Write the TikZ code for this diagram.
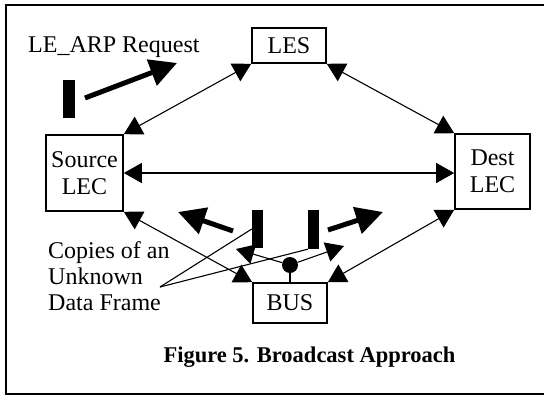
\documentclass[tikz,border=0pt]{standalone}
\usepackage{fontspec}
\setmainfont{Liberation Serif}
\usetikzlibrary{arrows.meta}
\begin{document}
\begin{tikzpicture}[x=1pt,y=-1pt,
  box/.style={draw, line width=1.6pt, inner sep=0pt, align=center,
    font=\fontsize{24}{27}\selectfont},
  link/.style={line width=1.1pt, {Triangle[length=18pt,width=20pt]}-{Triangle[length=18pt,width=20pt]}},
  onehead/.style={line width=1.1pt, -{Triangle[length=18pt,width=20pt]}},
  thin/.style={line width=1.1pt},
  fat/.style={line width=5pt, -{Triangle[length=27pt,width=27pt]}},
  bar/.style={fill, inner sep=0pt},
  lbl/.style={inner sep=0pt, font=\fontsize{24}{26}\selectfont}
]
\useasboundingbox (0,0) rectangle (544,402);
% frame
\draw[line width=1.8pt] (544,5) -- (6,5) -- (6,394) -- (544,394);

% boxes
\node[box, minimum width=74pt, minimum height=35pt] (les) at (289,45.5) {LES};
\node[box, minimum width=77pt, minimum height=76pt] (src) at (84.5,173) {Source\\LEC};
\node[box, minimum width=75pt, minimum height=75pt] (dst) at (492.5,171.5) {Dest\\LEC};
\node[box, minimum width=74pt, minimum height=40pt] (bus) at (290,303) {BUS};

% connectors
\draw[link] (les.south west) -- (src.north east);
\draw[link] (les.south east) -- (dst.north west);
\draw[link] (src.east) -- (src.east -| dst.west);
\draw[link] (src.south east) -- (bus.north west);
\draw[link] (dst.south west) -- (bus.north east);

% bus fan-out dot
\node[circle, fill, inner sep=0pt, minimum size=16pt] (dot) at (290,265) {};
\draw[thin] (dot) -- (bus.north);
\coordinate (cl) at (236,249);
\coordinate (cr) at (344,246);
\draw[onehead] (dot) -- (cl);
\draw[onehead] (dot) -- (cr);

% frame bars
\node[bar, minimum width=12pt, minimum height=38pt] (b1) at (69,99) {};
\node[bar, minimum width=11pt, minimum height=38pt] (b2) at (257.5,229) {};
\node[bar, minimum width=11pt, minimum height=39pt] (b3) at (313.5,229.5) {};

% fat arrows
\coordinate (f1a) at (85,98);   \coordinate (f1b) at (177,63);
\coordinate (f2a) at (233,231); \coordinate (f2b) at (178,212);
\coordinate (f3a) at (328,230); \coordinate (f3b) at (383,212);
\draw[fat] (f1a) -- (f1b);
\draw[fat] (f2a) -- (f2b);
\draw[fat] (f3a) -- (f3b);

% labels
\node[lbl, anchor=base west] (arp) at (28,52) {LE\_ARP Request};
\node[lbl, anchor=west, align=left] (copies) at (48,276) {Copies of an\\Unknown\\Data Frame};
\coordinate (cp) at (160,287);
\draw[thin] (cp) -- (b2.west);
\draw[thin] (cp) -- (b3.south west);

\node[inner sep=0pt, font=\fontsize{22.5}{26}\selectfont\bfseries] (cap) at (309.5,357) {Figure 5. Broadcast Approach};
\end{tikzpicture}
\end{document}
